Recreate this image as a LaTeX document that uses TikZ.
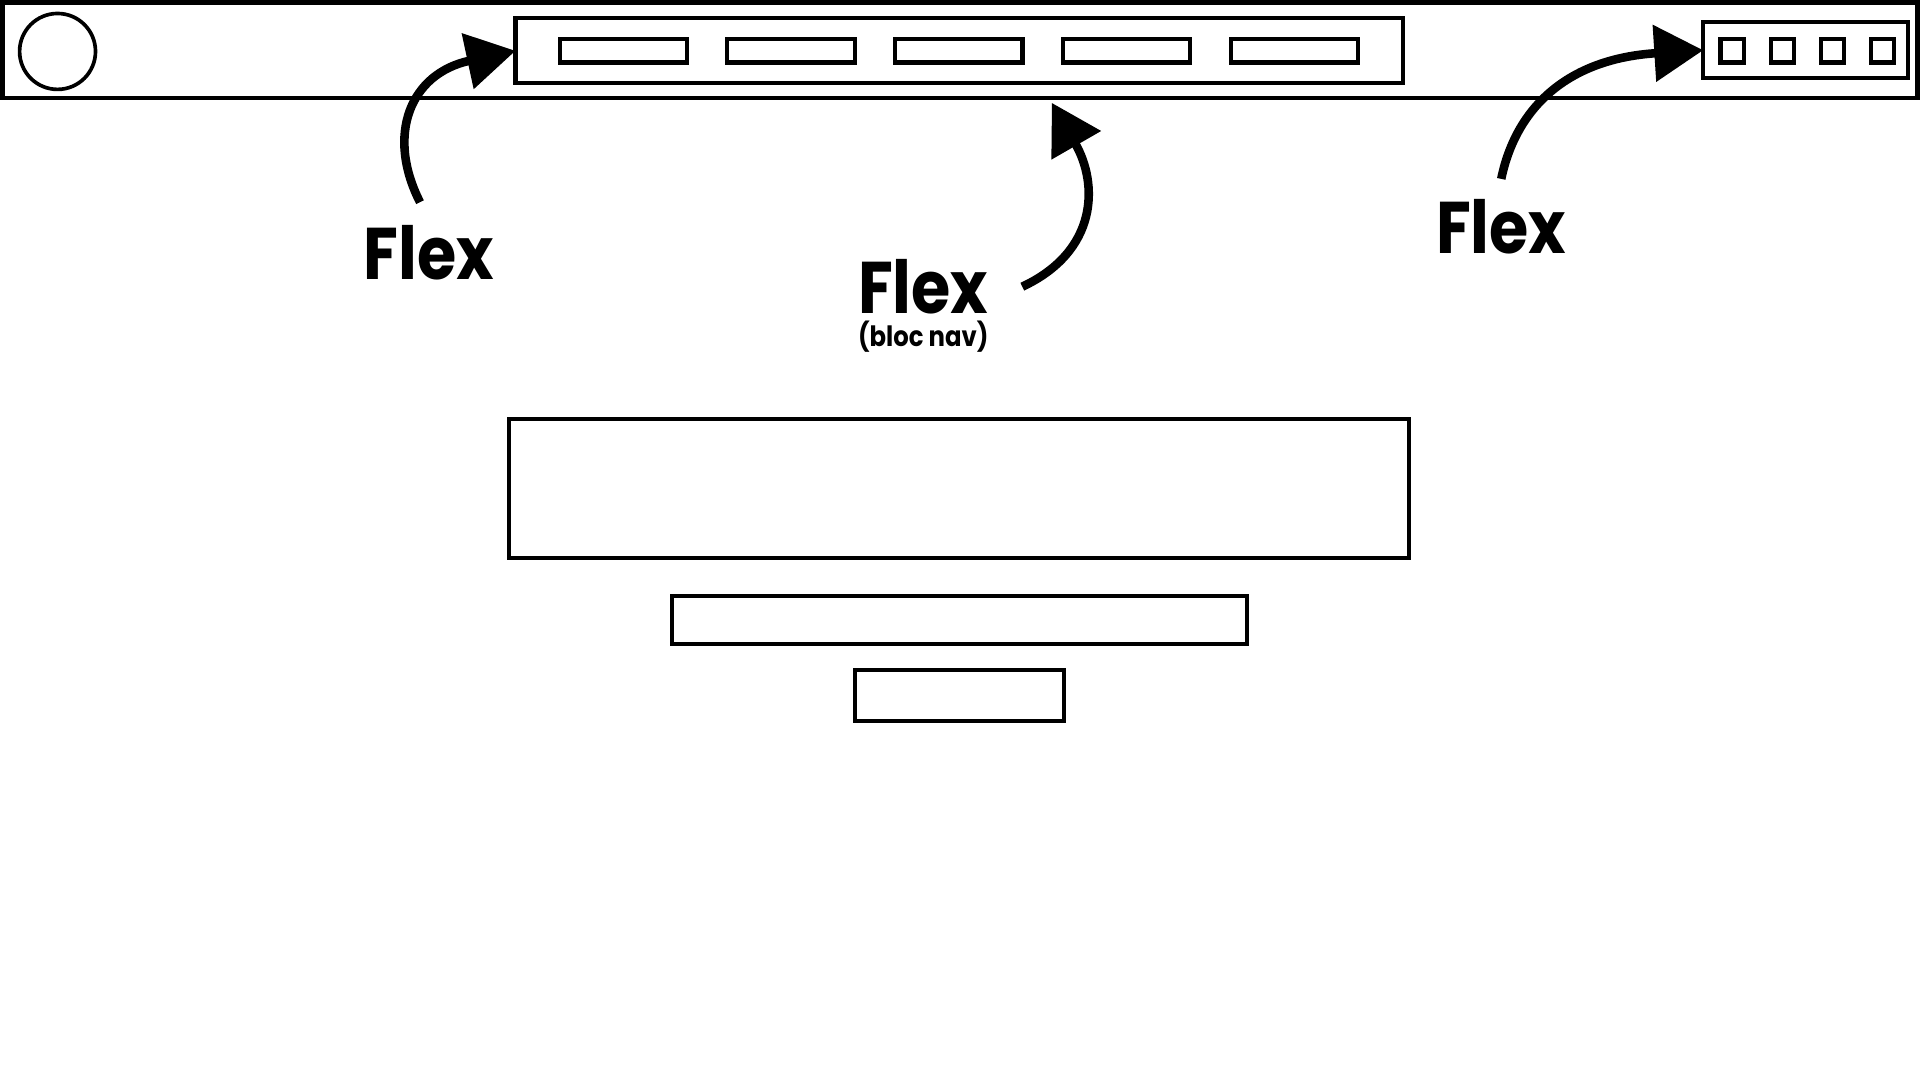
\documentclass[tikz,border=0pt]{standalone}
\usepackage{fontspec}
\newfontfamily\poppins{Poppins}[FakeStretch=0.87]
\usetikzlibrary{arrows.meta,positioning}

\begin{document}
\begin{tikzpicture}[x=0.1mm,y=-0.1mm,
                    wire box/.style={rectangle,draw,line width=0.34mm,inner sep=0pt,outer sep=0pt},
                    menu item/.style={wire box,minimum width=10.4mm,minimum height=1.9mm},
                    icon box/.style={wire box,minimum size=1.9mm},
                    flex label/.style={font=\poppins\bfseries\fontsize{17}{17}\selectfont,inner sep=0pt,anchor=base},
                    flex arrow/.style={-{Triangle[length=4mm,width=4.5mm]},line width=0.7mm}]
  \useasboundingbox (0,0) rectangle (1568,882);

  % header
  \node[wire box,minimum width=156.4mm,minimum height=7.8mm] (header) at (784,41) {};
  \node[circle,draw,line width=0.3mm,minimum size=6.2mm,inner sep=0pt] (logo) at (47,42) {};
  \node[wire box,minimum width=72.5mm,minimum height=5.3mm] (nav) at (783.5,41.5) {};
  \node[menu item] (item1) at (509,41.5) {};
  \node[menu item] (item2) [right=3.3mm of item1] {};
  \node[menu item] (item3) [right=3.3mm of item2] {};
  \node[menu item] (item4) [right=3.3mm of item3] {};
  \node[menu item] (item5) [right=3.3mm of item4] {};
  \node[wire box,minimum width=16.7mm,minimum height=4.6mm] (icons) at (1474.5,41) {};
  \node[icon box] (icon1) at (1414.5,41.5) {};
  \node[icon box] (icon2) [right=2.2mm of icon1] {};
  \node[icon box] (icon3) [right=2.2mm of icon2] {};
  \node[icon box] (icon4) [right=2.2mm of icon3] {};

  % body
  \node[wire box,minimum width=73.5mm,minimum height=11.4mm] (hero) at (783.5,399) {};
  \node[wire box,minimum width=47mm,minimum height=3.9mm] (bar) [below=3.1mm of hero] {};
  \node[wire box,minimum width=17.1mm,minimum height=4.2mm] (button) [below=2.1mm of bar] {};

  % labels
  \node[flex label] (flex1) at (350,228) {Flex};
  \node[flex label] (flex2) at (754,256) {Flex};
  \node[flex label,font=\poppins\bfseries\fontsize{6.5}{6.5}\selectfont] (navnote) at (754,283) {(bloc nav)};
  \node[flex label] (flex3) at (1226,207) {Flex};

  \draw[flex arrow] ([xshift=-0.7mm,yshift=1.8mm]flex1.north) .. controls (315,110) and (335,60) .. (nav.west);
  \draw[flex arrow] ([xshift=2.7mm]flex2.east) .. controls (897,205) and (897,150) .. ([xshift=7.55mm,yshift=-1.6mm]nav.south);
  \draw[flex arrow] ([yshift=1.6mm]flex3.north) .. controls (1238,88) and (1280,48) .. (icons.west);
\end{tikzpicture}
\end{document}
